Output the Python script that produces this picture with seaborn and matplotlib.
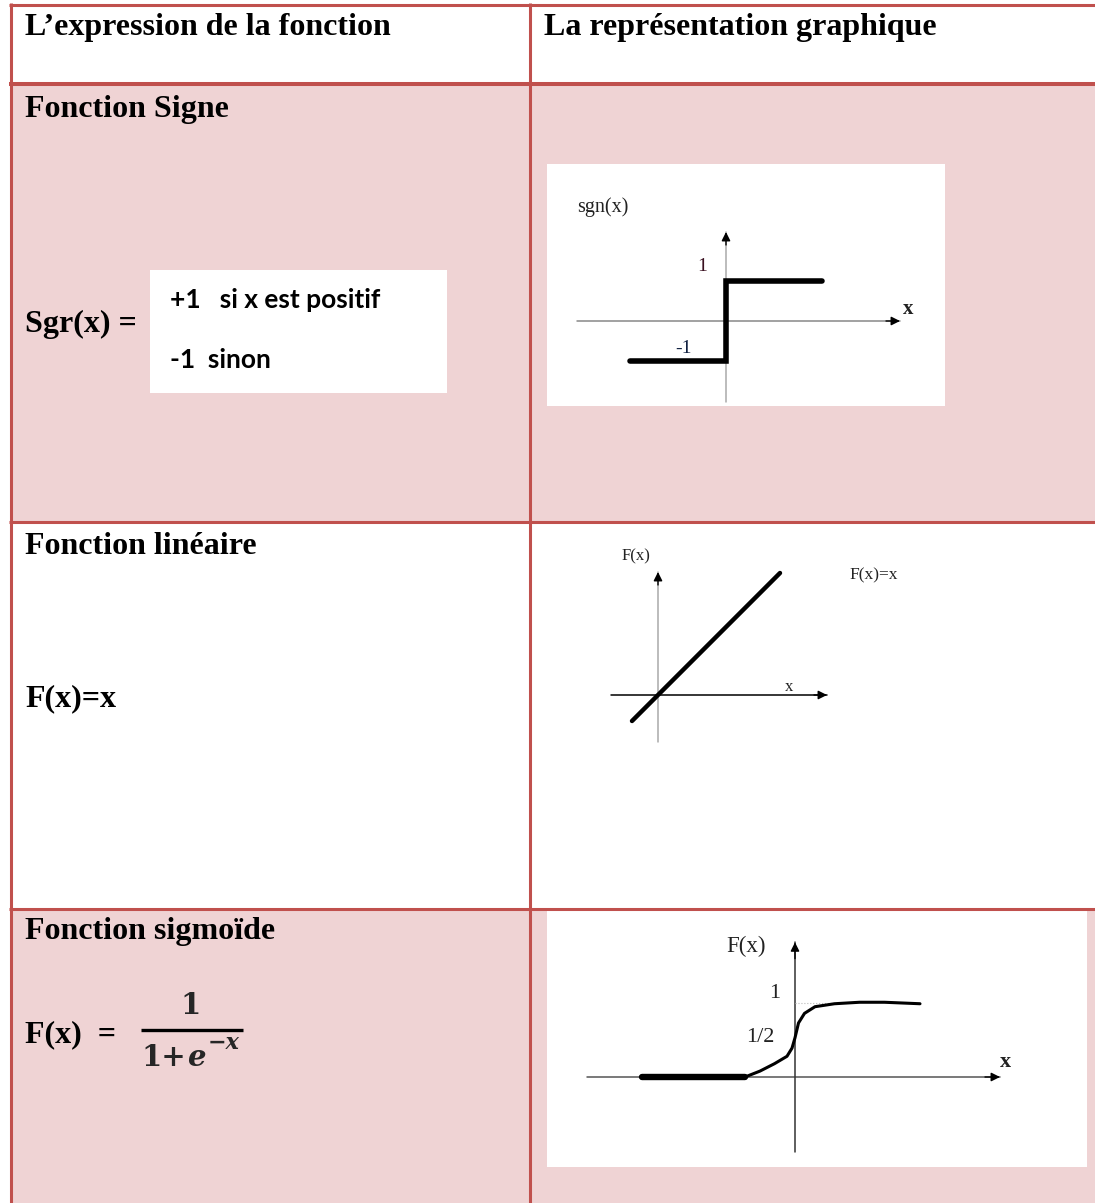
import numpy as np
import pandas as pd
import matplotlib.pyplot as plt
from matplotlib.patches import Rectangle
import seaborn as sns

# Data for the three small graphs (in graph units)
sgn_x = [-2.4, 0.0, 0.0, 2.4]
sgn_y = [-1.0, -1.0, 1.0, 1.0]

lin_x = [-0.65, 3.05]
lin_y = [-0.65, 3.05]

sig_flat_x = [-3.06, -1.0]
sig_flat_y = [0.0, 0.0]
sig_x = [-1.0, -0.70, -0.41, -0.16, -0.06, 0.0, 0.07, 0.19, 0.40, 0.79, 1.29, 1.79, 2.50]
sig_y = [0.0, 0.08, 0.18, 0.28, 0.39, 0.53, 0.73, 0.86, 0.95, 0.99, 1.01, 1.01, 0.99]

# Table text
header_left = "L’expression de la fonction"
header_right = "La représentation graphique"
row_titles = ["Fonction Signe", "Fonction linéaire", "Fonction sigmoïde"]

sns.set_theme(style="white")
plt.rcParams['font.family'] = ['Liberation Serif', 'DejaVu Serif']

W, H = 1095, 1203
PINK = '#EFD3D4'
RED = '#C0504D'

fig = plt.figure(figsize=(W / 100, H / 100), dpi=100)
fig.patch.set_facecolor('white')
bg = fig.add_axes([0, 0, 1, 1])
bg.set_xlim(0, W)
bg.set_ylim(H, 0)
bg.axis('off')

# cell fills
bg.add_patch(Rectangle((10, 84), W - 10, 438, color=PINK, lw=0))
bg.add_patch(Rectangle((10, 908), W - 10, H - 908, color=PINK, lw=0))
# white boxes
bg.add_patch(Rectangle((150, 270), 297, 123, color='white', lw=0))
bg.add_patch(Rectangle((547, 164), 398, 242, color='white', lw=0))
bg.add_patch(Rectangle((547, 910), 540, 257, color='white', lw=0))

# borders
def hline(y, lw=2.2):
    bg.plot([9, W], [y, y], color=RED, lw=lw, solid_capstyle='butt')

def vline(x, y0, y1, lw=2.2):
    bg.plot([x, x], [y0, y1], color=RED, lw=lw, solid_capstyle='butt')

hline(4.5)
hline(84, lw=2.9)
hline(522)
hline(908.5)
vline(10.5, 3, H)
vline(529.5, 3, H)

bold = dict(fontweight='bold', fontsize=23, va='center', ha='left', color='black')
bg.text(25, 27, header_left, **bold)
bg.text(544, 27, header_right, **bold)
bg.text(25, 109, row_titles[0], **bold)
bg.text(25, 546, row_titles[1], **bold)
bg.text(25, 931, row_titles[2], **bold)
bg.text(25, 324, "Sgr(x) =", **bold)
bg.text(25, 699, "F(x)=x", **bold)
bg.text(25, 1035, "F(x)  =", **bold)

cal = dict(family=['Lato', 'DejaVu Sans'], fontweight='bold', fontsize=19,
           va='center', ha='left', color='black')
bg.text(170, 300, "+1   si x est positif", **cal)
bg.text(170, 360, "-1  sinon", **cal)

# sigmoid formula as a fraction
mfont = ['DejaVu Serif']
bg.text(191, 1005, "1", family=mfont, fontweight='bold', fontsize=21,
        ha='center', va='center')
bg.plot([141, 243], [1030, 1030], color='black', lw=2.4, solid_capstyle='butt')
bg.text(141, 1057, "1+", family=mfont, fontweight='bold', fontsize=21,
        ha='left', va='center')
bg.text(187, 1057, "e", family=mfont, fontweight='bold', fontstyle='italic',
        fontsize=21, ha='left', va='center')
bg.text(208, 1043, "−x", family=mfont, fontweight='bold', fontstyle='italic',
        fontsize=16, ha='left', va='center')


def inset(box, origin, sx, sy):
    x0, y0, x1, y1 = box
    ox, oy = origin
    ax = fig.add_axes([x0 / W, 1 - y1 / H, (x1 - x0) / W, (y1 - y0) / H])
    ax.set_xlim((x0 - ox) / sx, (x1 - ox) / sx)
    ax.set_ylim((oy - y1) / sy, (oy - y0) / sy)
    ax.axis('off')
    return ax


def axis_arrow(ax, start, end, color, head_from):
    ax.plot([start[0], end[0]], [start[1], end[1]], color=color, lw=1.1)
    ax.annotate('', xy=end, xytext=head_from,
                arrowprops=dict(arrowstyle='-|>', color='black', lw=1.0,
                                mutation_scale=13, shrinkA=0, shrinkB=0))


small = dict(color='#222222', va='center')

# --- sign function ---
ax1 = inset((547, 164, 945, 406), (726, 321), 40, 40)
axis_arrow(ax1, (-3.725, 0), (4.35, 0), '#888888', (4.0, 0))
axis_arrow(ax1, (0, -2.025), (0, 2.225), '#aaaaaa', (0, 1.9))
sns.lineplot(x=sgn_x, y=sgn_y, sort=False, estimator=None, color='black',
             lw=4, ax=ax1)
ax1.lines[-1].set_solid_joinstyle('miter')
ax1.text(-3.725, 2.85, "sgn(x)", fontsize=14.5, ha='left', **small)
ax1.text(-0.6, 1.35, "1", fontsize=14, ha='center', color='#3a1020', va='center')
ax1.text(-1.05, -0.7, "-1", fontsize=14, ha='center', color='#102040', va='center')
ax1.text(4.55, 0.3, "x", fontsize=15, fontweight='bold', ha='center', **small)

# --- linear function ---
ax2 = inset((590, 540, 940, 760), (658, 695), 40, 40)
axis_arrow(ax2, (-1.175, 0), (4.225, 0), 'black', (3.9, 0))
axis_arrow(ax2, (0, -1.175), (0, 3.075), '#aaaaaa', (0, 2.75))
sns.lineplot(x=lin_x, y=lin_y, sort=False, estimator=None, color='black',
             lw=3.2, ax=ax2)
ax2.text(-0.55, 3.475, "F(x)", fontsize=12, ha='center', **small)
ax2.text(3.275, 0.2, "x", fontsize=12, ha='center', **small)
ax2.text(4.775, 3.0, "F(x)=x", fontsize=12.5, ha='left', **small)

# --- sigmoid function ---
ax3 = inset((547, 910, 1087, 1167), (795, 1077), 50, 74)
axis_arrow(ax3, (-4.16, 0), (4.1, 0), '#555555', (3.8, 0))
axis_arrow(ax3, (0, -1.01), (0, 1.82), '#333333', (0, 1.6))
ax3.plot([0, 0.9], [1.0, 1.0], color='#bbbbbb', lw=0.8, ls=':')
sns.lineplot(x=sig_flat_x, y=sig_flat_y, sort=False, estimator=None,
             color='black', lw=4.6, ax=ax3)
sns.lineplot(x=sig_x, y=sig_y, sort=False, estimator=None, color='black',
             lw=2.2, ax=ax3)
ax3.text(-0.98, 1.76, "F(x)", fontsize=16.5, ha='center', **small)
ax3.text(-0.4, 1.135, "1", fontsize=16, ha='center', **small)
ax3.text(-0.7, 0.53, "1/2", fontsize=16, ha='center', **small)
ax3.text(4.2, 0.2, "x", fontsize=16, fontweight='bold', ha='center', **small)

fig.savefig('out.png', dpi=100)
